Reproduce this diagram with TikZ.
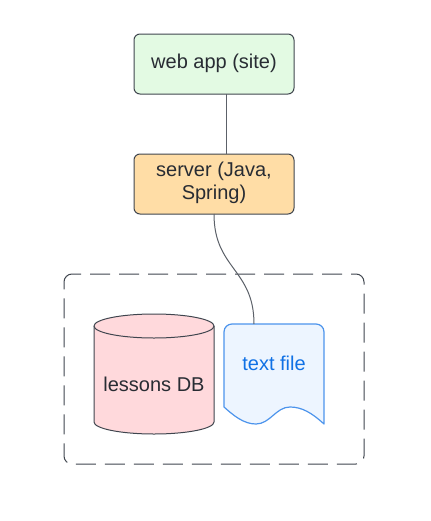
\documentclass[tikz,border=0pt]{standalone}
\usepackage{fontspec}
\setmainfont{Liberation Sans}
\usetikzlibrary{calc}
\definecolor{ink}{HTML}{3F454E}
\definecolor{txt}{HTML}{282C33}
\definecolor{gfill}{HTML}{E3FAE3}
\definecolor{ofill}{HTML}{FFDDA6}
\definecolor{pfill}{HTML}{FFD9DC}
\definecolor{bfill}{HTML}{EDF5FF}
\definecolor{bline}{HTML}{4C94EC}
\definecolor{btxt}{HTML}{1071E5}
\tikzset{
  every node/.style={font=\fontsize{15}{17.25}\selectfont, text=txt, align=center, inner sep=0pt, outer sep=0pt},
  appbox/.style={draw=ink, line width=0.75pt, rounded corners=4.5pt, minimum width=120pt, minimum height=45pt, text depth=4.7pt},
  link/.style={draw=ink!85, line width=0.75pt},
  group/.style={draw=ink, line width=0.75pt, dash pattern=on 15pt off 6.75pt, dash phase=8.25pt},
  dbshape/.style={draw=ink, line width=0.75pt, fill=pfill},
  docshape/.style={draw=bline, line width=0.9pt, fill=bfill, line join=round},
}
\begin{document}
\begin{tikzpicture}[x=0.75pt,y=-0.75pt]
\useasboundingbox (0,0) rectangle (430,521);
\draw[group] (72,274) -- (356,274) arc[start angle=90,end angle=0,radius=6pt]
  -- (364,456) arc[start angle=0,end angle=-90,radius=6pt]
  -- (72,464) arc[start angle=-90,end angle=-180,radius=6pt]
  -- (64,282) arc[start angle=180,end angle=90,radius=6pt];
% cylinder
\draw[dbshape] (94,326) -- (94,422) .. controls (94,428.6) and (120.9,434) .. (154,434)
  .. controls (187.1,434) and (214,428.6) .. (214,422) -- (214,326)
  .. controls (214,319.4) and (187.1,314) .. (154,314)
  .. controls (120.9,314) and (94,319.4) .. (94,326) -- cycle;
\draw[dbshape] (94,326) .. controls (94,332.6) and (120.9,338) .. (154,338)
  .. controls (187.1,338) and (214,332.6) .. (214,326);
\node (db) at (154,384) {lessons DB};
% document
\draw[docshape] (224,407) -- (224,332) .. controls (224,327) and (228,324) .. (232,324)
  -- (316,324) .. controls (320,324) and (324,327) .. (324,332) -- (324,424)
  .. controls (312,413) and (302,407) .. (290,407)
  .. controls (276,407) and (270,424) .. (256,424)
  .. controls (244,424) and (234,416) .. (224,407) -- cycle;
\node[text=btxt] (doc) at (274,363.5) {text file};
\coordinate (doctop) at (254,324);
\node[appbox, fill=gfill] (web) at (214,64) {web app (site)};
\node[appbox, fill=ofill] (srv) at (214,184) {server (Java,\\Spring)};
\draw[link] ($(web.south)+(12,0)$) -- ($(srv.north)+(12,0)$);
\draw[link] (srv.south) .. controls ($(srv.south)+(0,55)$) and ($(doctop)+(0,-55)$) .. (doctop);
\end{tikzpicture}
\end{document}
